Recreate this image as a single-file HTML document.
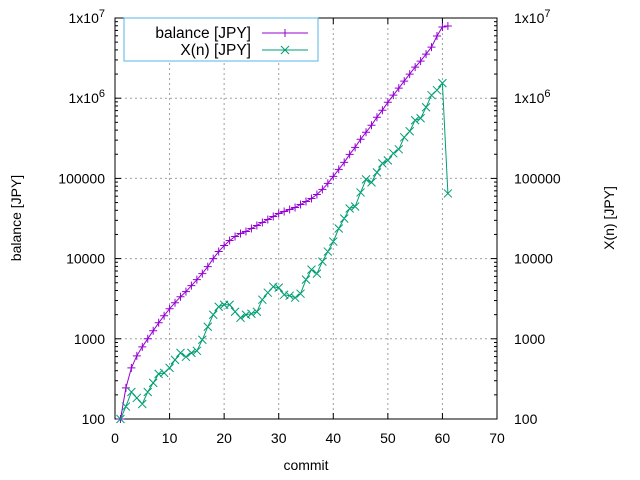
<!DOCTYPE html>
<html><head><meta charset="utf-8"><style>
html,body{margin:0;padding:0;background:#fff}
svg{display:block;font-family:"Liberation Sans",Arial,sans-serif;font-size:14px}
</style></head><body>
<svg id="chart" width="640" height="480" viewBox="0 0 640 480" xmlns="http://www.w3.org/2000/svg">
<g id="grid"></g>
<g id="axes"></g>
<g id="series"></g>
<text x="306" y="470" text-anchor="middle">commit</text>
<text transform="translate(21,218) rotate(-90)" text-anchor="middle">balance [JPY]</text>
<text transform="translate(614,218) rotate(-90)" text-anchor="middle">X(n) [JPY]</text>
<g>
<rect x="124" y="18" width="194" height="43" fill="#fff" stroke="#56b4e9" stroke-width="1"/>
<g>
<text x="251" y="38" text-anchor="end" font-size="15.5">balance [JPY]</text>
<line x1="262" y1="33" x2="308" y2="33" stroke="#9400d3" stroke-width="1"/>
<path d="M281,33h8M285,29v8" stroke="#9400d3" stroke-width="1"/>
</g>
<g>
<text x="251" y="55" text-anchor="end" font-size="15.5">X(n) [JPY]</text>
<line x1="262" y1="50" x2="308" y2="50" stroke="#009e73" stroke-width="1"/>
<path d="M281,46l8,8M289,46l-8,8" stroke="#009e73" stroke-width="1"/>
</g>
</g>
</svg>
<script>
const commits = [];
for (let i = 1; i <= 61; i++) commits.push(i);
const balance = [100,244,434,613,794,1000,1259,1585,1939,2371,2818,3350,3868,4597,5464,6494,7943,10000,12240,14540,16790,18840,20540,21750,23710,25850,28180,30730,33500,36520,38680,40970,43390,47320,51590,56230,63100,72900,86600,105900,129500,158500,199500,244100,307300,375800,459700,578800,707900,891300,1091000,1334000,1632000,1995000,2441000,2900000,3548000,4341000,5957000,7720000,7943000];
const xn = [100,143,217,183,154,217,282,365,376,434,546,668,596,668,708,972,1413,1995,2512,2661,2661,2175,1830,1995,2054,2175,3073,3758,4467,4341,3548,3449,3255,3650,5464,7286,6494,9173,12240,16310,23710,31620,42170,44670,66830,97160,89130,118900,154000,167900,205400,230500,325500,386800,530900,562300,772000,1091000,1259000,1540000,64940];
const xTicks = [0,10,20,30,40,50,60,70];
const yTicks = [100,1000,10000,100000,1000000,10000000];
const yTickLabels = ["100","1000","10000","100000","1x10^6","1x10^7"];

const L=115,R=497,T=18,B=419;
const xMin=0,xMax=70,yMinL=2,yMaxL=7;
function xs(v){return L+(v-xMin)/(xMax-xMin)*(R-L);}
function ys(v){return B-(Math.log10(v)-yMinL)/(yMaxL-yMinL)*(B-T);}
const NS="http://www.w3.org/2000/svg";
function mk(tag,attrs,parent){const e=document.createElementNS(NS,tag);for(const k in attrs)e.setAttribute(k,attrs[k]);parent.appendChild(e);return e;}
const grid=document.getElementById('grid'),axes=document.getElementById('axes'),series=document.getElementById('series');

xTicks.forEach(t=>{
  const x=xs(t);
  if(t>xMin&&t<xMax){const g=mk('line',{x1:x,y1:T,x2:x,y2:B,stroke:'#a0a0a0','stroke-dasharray':'2,3','stroke-width':1},grid);
  
  }
  mk('line',{x1:x,y1:B,x2:x,y2:B-6,stroke:'#000'},axes);
  mk('line',{x1:x,y1:T,x2:x,y2:T+6,stroke:'#000'},axes);
  const tx=mk('text',{x:x,y:B+24,'text-anchor':'middle'},axes);
  tx.textContent=String(t);
  
  
});
function label(parent,x,y,anchor,s){
  const tx=mk('text',{x:x,y:y,'text-anchor':anchor},parent);
  if(s.indexOf('^')>=0){const p=s.split('^');tx.textContent=p[0];const sp=mk('tspan',{dy:-6,'font-size':'11'},tx);sp.textContent=p[1];}
  else tx.textContent=s;
  return tx;
}
yTicks.forEach((t,i)=>{
  const y=ys(t);
  if(i>0&&i<yTicks.length-1){const g=mk('line',{x1:L,y1:y,x2:R,y2:y,stroke:'#a0a0a0','stroke-dasharray':'2,3','stroke-width':1},grid);
  
  }
  mk('line',{x1:L,y1:y,x2:L+6,y2:y,stroke:'#000'},axes);
  mk('line',{x1:R,y1:y,x2:R-6,y2:y,stroke:'#000'},axes);
  const a=label(axes,L-10,y+5,'end',yTickLabels[i]);
  
  
  const b=label(axes,R+17,y+5,'start',yTickLabels[i]);
  
  
  if(i<yTicks.length-1){for(let m=2;m<10;m++){const yy=ys(t*m);
    mk('line',{x1:L,y1:yy,x2:L+3,y2:yy,stroke:'#000'},axes);
    mk('line',{x1:R,y1:yy,x2:R-3,y2:yy,stroke:'#000'},axes);}}
});
const frame=mk('rect',{x:L,y:T,width:R-L,height:B-T,fill:'none',stroke:'#000','stroke-width':1},axes);



function drawSeries(vals,color,marker,name){
  const g=mk('g',{},series);
  
  
  const pts=vals.map((v,i)=>xs(commits[i]).toFixed(1)+','+ys(v).toFixed(1)).join(' ');
  mk('polyline',{points:pts,fill:'none',stroke:color,'stroke-width':1},g);
  let d='';
  vals.forEach((v,i)=>{const x=xs(commits[i]),y=ys(v);
    if(marker==='+')d+=`M${x-4},${y}h8M${x},${y-4}v8`;
    else d+=`M${x-4},${y-4}l8,8M${x+4},${y-4}l-8,8`;});
  const m=mk('path',{d:d,stroke:color,'stroke-width':1,fill:'none'},g);
  
  
}
drawSeries(balance,'#9400d3','+','balance-series');
drawSeries(xn,'#009e73','x','xn-series');
</script>
</body></html>
